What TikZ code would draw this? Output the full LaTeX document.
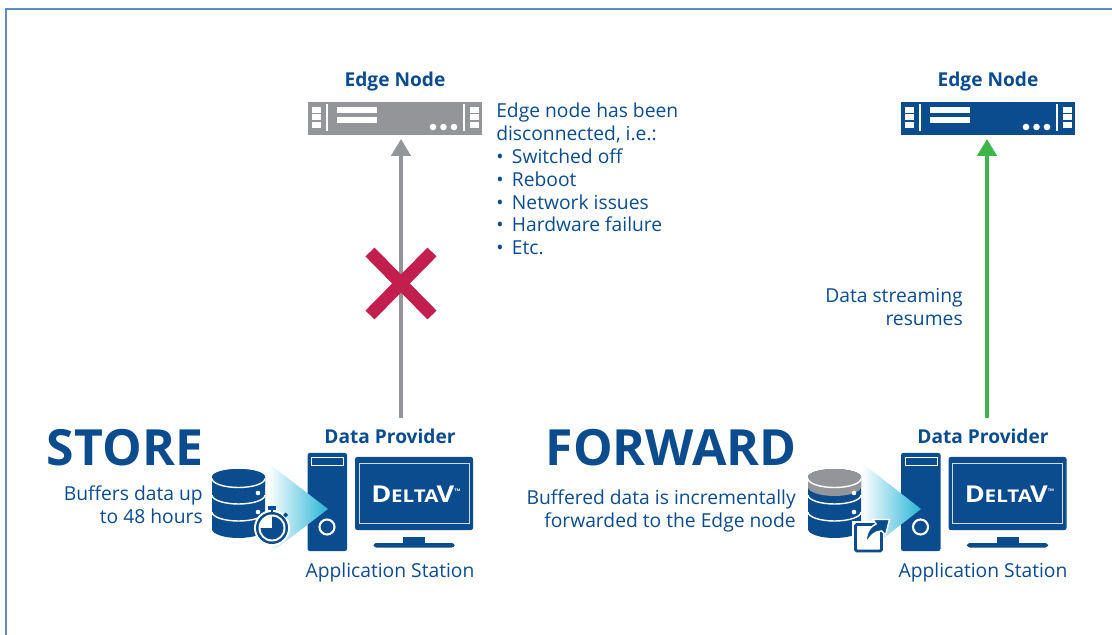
\documentclass[tikz,border=0pt]{standalone}
\usepackage{fontspec}
\setmainfont{Open Sans}
\usetikzlibrary{arrows.meta}
\definecolor{dvblue}{HTML}{0B4C8E}
\definecolor{dvgray}{HTML}{939598}
\definecolor{dvgreen}{HTML}{3DB54A}
\definecolor{dvred}{HTML}{C21F4E}
\definecolor{dvcyan}{HTML}{29B5D8}
\definecolor{dvframe}{HTML}{5B8DBE}
\tikzset{
  txt/.style={text=dvblue,font=\fontsize{13.7}{16.2}\selectfont,inner sep=0pt},
  head/.style={text=dvblue,font=\fontsize{13.6}{16}\selectfont\bfseries,inner sep=0pt},
  big/.style={text=dvblue,font=\fontsize{35.5}{40}\selectfont\bfseries,inner sep=0pt},
  flow/.style={line width=3.5pt,-{Triangle[length=12pt,width=13.5pt]}},
  cross/.style={dvred,line width=9pt},
}
% one rack unit, #1 = x of left edge, #2 = colour
\newcommand{\rackunit}[2]{
  \begin{scope}[shift={(#1,0)}]
    \fill[#2] (0,102) rectangle (174,135);
    \foreach \y in {107,114.5,122}
      \fill[white] (4,\y) rectangle (13,\y+6);
    \foreach \y in {107,114.5,122}
      \fill[white] (162,\y) rectangle (171,\y+6);
    \fill[white] (18,104) rectangle (19.5,131);
    \fill[white] (155,104) rectangle (156.5,131);
    \fill[white] (29,107) rectangle (69,113);
    \fill[white] (29,117) rectangle (69,123);
    \foreach \x in {125,135.5,146}
      \fill[white] (\x,127) circle (3.3);
  \end{scope}
}
% tower and monitor, #1 = x shift
\newcommand{\station}[1]{
  \begin{scope}[shift={(#1,0)}]
    \fill[dvblue,rounded corners=1.5pt] (307.5,453) rectangle (347,551);
    \draw[white,line width=0.7pt] (311.5,457.5) rectangle (343.5,465);
    \draw[white,line width=1.5pt] (327,527) circle (7.5);
    \fill[dvblue,rounded corners=1.5pt] (355,457) rectangle (473,530);
    \draw[white!80!dvblue,line width=0.7pt] (359,463) rectangle (469,523);
    \node[text=white,inner sep=0pt,xscale=1.17,font=\fontsize{16.5}{17}\selectfont\bfseries] at (416,494)
      {D\kern-0.2pt{\fontsize{12.5}{13}\selectfont ELTA}\kern-1.2pt V\raisebox{8pt}{\fontsize{2.5}{3}\selectfont TM}};
    \fill[dvblue] (403,537) rectangle (425,544);
    \fill[dvblue,rounded corners=2pt] (373.5,543) rectangle (454.5,547.5);
  \end{scope}
}
% database stack, #1 = x shift, #2 = colour of top disc
\newcommand{\dbstack}[2]{
  \begin{scope}[shift={(#1,0)}]
    \fill[dvblue] (212,477) -- (212,529) arc[start angle=180,end angle=0,x radius=26.5,y radius=9]
      -- (265,477) arc[start angle=0,end angle=-180,x radius=26.5,y radius=8];
    \fill[#2] (212,477) -- (212,487) arc[start angle=180,end angle=0,x radius=26.5,y radius=9]
      -- (265,477) arc[start angle=0,end angle=-180,x radius=26.5,y radius=8];
    \foreach \y in {478.5,495,512}
      \draw[white,line width=1pt] (212,\y) arc[start angle=180,end angle=0,x radius=26.5,y radius=9];
    \fill[white] (258,493) circle (2.3);
    \fill[white] (258,512) circle (2.3);
  \end{scope}
}
% funnel that points into the tower
\newcommand{\funnel}[2]{
  \shade[left color=white,right color=dvcyan] (#1,463) -- (#2,509) -- (#1,555) -- cycle;
}
\begin{document}
\begin{tikzpicture}[x=0.025cm,y=-0.025cm]
  \useasboundingbox (0,0) rectangle (1112,635);
  \draw[dvframe,line width=1pt] (1112,9) -- (6,9) -- (6,635);
  % left side
  \node[head] (edgeL) at (395,82) {Edge Node};
  \rackunit{308}{dvgray}
  \coordinate (topL) at (401,139);
  \coordinate (botL) at (401,418);
  \draw[flow,dvgray] (botL) -- (topL);
  \coordinate (crossA) at (370,252);
  \coordinate (crossB) at (432,315);
  \coordinate (crossC) at (432,252);
  \coordinate (crossD) at (370,315);
  \draw[cross] (crossA) -- (crossB);
  \draw[cross] (crossC) -- (crossD);
  \node[txt,anchor=north west,align=left] (whyL) at (496,103) {Edge node has been\\disconnected, i.e.:\\[0pt]
    \textbullet\hspace{6pt}Switched off\\\textbullet\hspace{6pt}Reboot\\\textbullet\hspace{6pt}Network issues\\
    \textbullet\hspace{6pt}Hardware failure\\\textbullet\hspace{6pt}Etc.};
  \node[big] (storeT) at (125,448) {STORE};
  \node[txt,anchor=east,align=right] (storeD) at (203,505) {Buffers data up\\to 48 hours};
  \node[head] (provL) at (390,436) {Data Provider};
  \dbstack{0}{dvblue}
  \station{0}
  \funnel{268}{328}
  % stopwatch
  \fill[white] (272,528) circle (18);
  \fill[dvblue] (272,528) circle (16);
  \fill[white] (272,528) circle (13.5);
  \fill[dvblue] (272,528) -- (272,516.5) arc[start angle=-90,end angle=180,radius=11.5] -- cycle;
  \fill[dvblue] (268,506) rectangle (276,509.5);
  \fill[dvblue] (270.8,509) rectangle (273.2,513);
  \fill[dvblue] (283,515) -- (285.5,512.5) -- (288,515) -- (285.5,517.5) -- cycle;
  \node[txt] (appL) at (390,572) {Application Station};
  % right side
  \node[head] (edgeR) at (988,82) {Edge Node};
  \rackunit{901}{dvblue}
  \coordinate (topR) at (987,139);
  \coordinate (botR) at (987,418);
  \draw[flow,dvgreen] (botR) -- (topR);
  \node[txt,anchor=east,align=right] (resume) at (963,307) {Data streaming\\resumes};
  \node[big] (fwdT) at (671,448) {FORWARD};
  \node[txt,anchor=east,align=right] (fwdD) at (796,511) {Buffered data is incrementally\\forwarded to the Edge node};
  \node[head] (provR) at (983,436) {Data Provider};
  \dbstack{596}{dvgray}
  \station{593.5}
  \funnel{862}{921}
  % box with arrow
  \fill[white] (852,521) rectangle (884,554);
  \draw[dvblue,line width=2pt,rounded corners=1pt] (855.5,524.5) rectangle (881.5,551);
  \filldraw[fill=dvblue,draw=white,line width=1pt] (866,543) .. controls (866,532) and (871,526) .. (876,524) -- (873,519.5) -- (889.5,519.5)
    -- (885.5,535) -- (881.5,531) .. controls (875,531) and (871,535) .. (866,543) -- cycle;
  \node[txt] (appR) at (983,572) {Application Station};
\end{tikzpicture}
\end{document}
